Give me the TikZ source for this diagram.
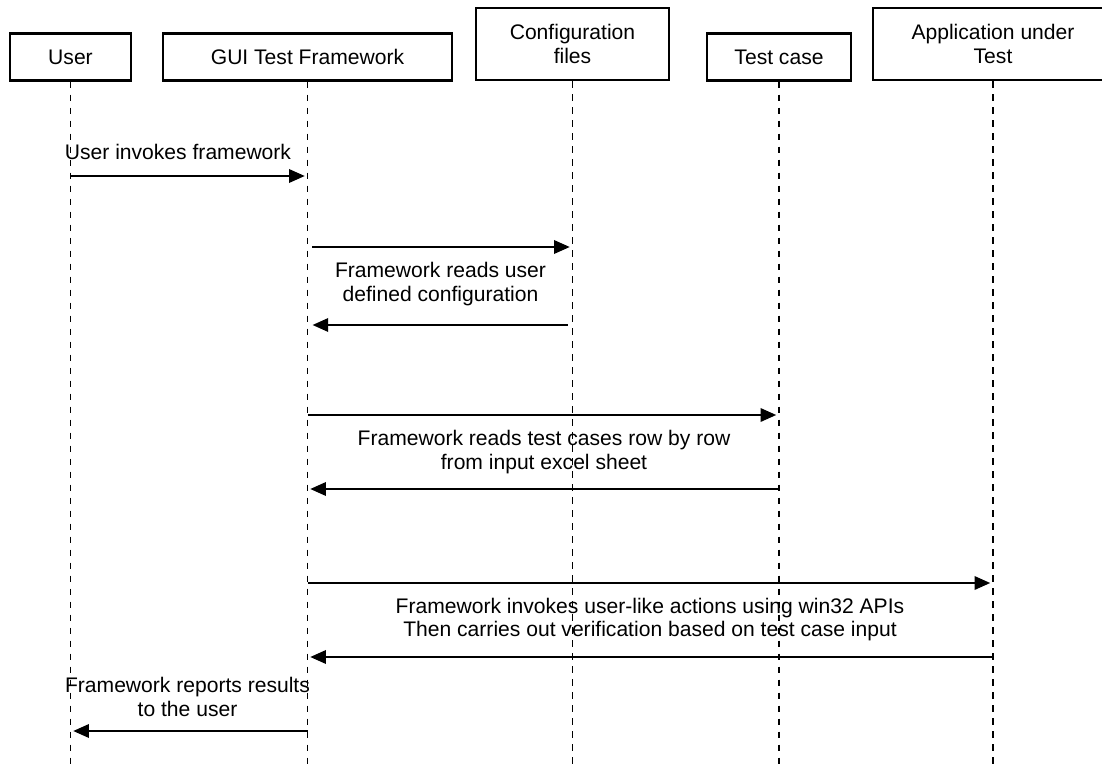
\documentclass[tikz,border=0pt]{standalone}
\usepackage{fontspec}
\setmainfont{Liberation Sans}
\usetikzlibrary{arrows.meta}

\tikzset{
  actor/.style={draw, line width=1.2pt, align=center, inner sep=0pt,
    font=\fontsize{12}{13.6}\selectfont},
  lifeline/.style={line width=1pt, dash pattern=on 3.7pt off 3.7pt},
  msg/.style={line width=1.6pt, shorten >=1.5pt,
    -{Triangle[length=9pt,width=7.5pt]}},
  msglabel/.style={align=center, inner sep=0pt,
    font=\fontsize{12}{13.6}\selectfont}
}

\begin{document}
\begin{tikzpicture}[x=0.02cm, y=-0.02cm]
	%%%%% START %%%%%
	\clip (0, 0) rectangle (1102, 770);
	
	\node[actor, minimum width=2.42cm, minimum height=0.94cm] (user) at (70.5, 57) {User};
	\node[actor, minimum width=5.78cm, minimum height=0.94cm] (gui) at (307.5, 57) {GUI Test Framework};
	\node[actor, minimum width=3.86cm, minimum height=1.44cm] (config) at (572.5, 44) {Configuration\\files};
	\node[actor, minimum width=2.88cm, minimum height=0.94cm] (testcase) at (779, 57) {Test case};
	\node[actor, minimum width=4.8cm, minimum height=1.44cm] (aut) at (993, 44) {Application under\\Test};
	
	\coordinate (bottom) at (0, 770);
	\draw[lifeline] (user.south) -- (user.south |- bottom);
	\draw[lifeline] (gui.south) -- (gui.south |- bottom);
	\draw[lifeline] (config.south) -- (config.south |- bottom);
	\draw[lifeline] (testcase.south) -- (testcase.south |- bottom);
	\draw[lifeline] (aut.south) -- (aut.south |- bottom);
	
	\coordinate (r1) at (0, 176);
	\coordinate (r2) at (0, 247);
	\coordinate (r3) at (0, 325);
	\coordinate (r4) at (0, 415);
	\coordinate (r5) at (0, 489);
	\coordinate (r6) at (0, 583);
	\coordinate (r7) at (0, 657);
	\coordinate (r8) at (0, 731);
	
	\node[msglabel] (invoke) at (178, 152) {User invokes framework};
	\draw[msg] (user |- r1) -- (gui |- r1);
	
	\draw[msg, shorten <=2.8pt] (gui |- r2) -- (config |- r2);
	\node[msglabel] (readcfg) at (440.5, 284) {Framework reads user\\defined configuration};
	\draw[msg, shorten <=2.8pt, shorten >=2.8pt] (config |- r3) -- (gui |- r3);
	
	\draw[msg] (gui |- r4) -- (testcase |- r4);
	\node[msglabel] (readtc) at (544, 452) {Framework reads test cases row by row\\from input excel sheet};
	\draw[msg] (testcase |- r5) -- (gui |- r5);
	
	\draw[msg] (gui |- r6) -- (aut |- r6);
	\node[msglabel] (actions) at (650, 619.5) {Framework invokes user-like actions using win32 APIs\\Then carries out verification based on test case input};
	\draw[msg] (aut |- r7) -- (gui |- r7);
	
	\node[msglabel] (report) at (187.5, 697) {Framework reports results\\to the user};
	\draw[msg] (gui |- r8) -- (user |- r8);
	
	%%%%% END %%%%%
\end{tikzpicture}
\end{document}
